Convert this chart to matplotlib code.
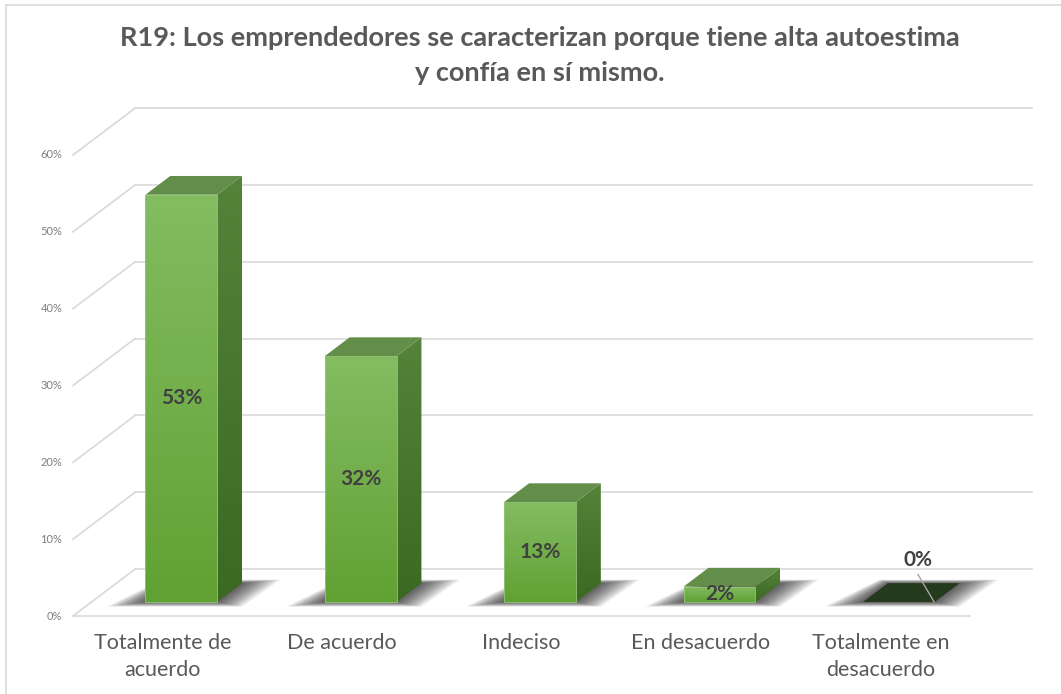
import numpy as np
import matplotlib
matplotlib.use("Agg")
import matplotlib.pyplot as plt
from matplotlib.patches import Polygon
from matplotlib.colors import LinearSegmentedColormap
from matplotlib.lines import Line2D

# datos
categorias = ["Totalmente de\nacuerdo", "De acuerdo", "Indeciso", "En desacuerdo", "Totalmente en\ndesacuerdo"]
valores = [53, 32, 13, 2, 0]
etiquetas = ["53%", "32%", "13%", "2%", "0%"]
ticks_y = [0, 10, 20, 30, 40, 50, 60]
titulo = "R19: Los emprendedores se caracterizan porque tiene alta autoestima\ny confía en sí mismo."

# geometria pseudo 3D
DX, DY = 0.346, 6.1      # profundidad del suelo
ANCHO = 0.40
T0, T1 = 0.30, 0.70      # posicion de la barra en la profundidad
GRIS = "#d9d9d9"
FUENTE = ["Lato", "DejaVu Sans"]

fig = plt.figure(figsize=(10.61, 6.94), dpi=100)
ax = fig.add_axes([73 / 1061, 78 / 694, 897 / 1061, 461 / 694])
ax.set_xlim(-0.5, 4.5)
ax.set_ylim(0, 60)
ax.axis("off")

# borde del grafico
fig.add_artist(Line2D([6 / 1061, 6 / 1061], [0, 1 - 5 / 694], transform=fig.transFigure, color=GRIS, lw=1.2))
fig.add_artist(Line2D([6 / 1061, 1], [1 - 5 / 694, 1 - 5 / 694], transform=fig.transFigure, color=GRIS, lw=1.2))


def grad_fill(verts, c_top, c_bot, z):
    poly = Polygon(verts, closed=True, facecolor="none", edgecolor="none", clip_on=False)
    ax.add_patch(poly)
    xs = [p[0] for p in verts]
    ys = [p[1] for p in verts]
    cmap = LinearSegmentedColormap.from_list("g", [c_bot, c_top])
    img = ax.imshow(np.linspace(0, 1, 256).reshape(-1, 1), extent=[min(xs), max(xs), min(ys), max(ys)],
                    origin="lower", cmap=cmap, aspect="auto", zorder=z)
    img.set_clip_path(poly)


# lineas de la cuadricula (pared trasera, pared izquierda)
for v in ticks_y:
    ax.plot([-0.5 + DX, 4.5 + DX], [v + DY, v + DY], color=GRIS, lw=1.2, clip_on=False, zorder=1)
    ax.plot([-0.5, -0.5 + DX], [v, v + DY], color=GRIS, lw=1.2, clip_on=False, zorder=1)
    ax.text(-0.56, v, f"{v}%", ha="right", va="center", fontsize=8, color="#7f7f7f", family=FUENTE)
# suelo
ax.plot([-0.5, 4.5], [0, 0], color=GRIS, lw=1.2, clip_on=False, zorder=1)

# barras
for i, v in enumerate(valores):
    xl = i - ANCHO / 2
    xr = i + ANCHO / 2
    fx, fy = T0 * DX, T0 * DY
    bx, by = T1 * DX, T1 * DY

    # sombra difusa
    for k in range(16):
        e = 0.005 + k * 0.01
        sh = Polygon([(xl + fx - e * 1.4, fy - e * 4), (xr + fx + e * 0.9, fy - e * 4),
                      (xr + bx + e * 1.4, by + e * 3), (xl + bx - e * 0.3, by + e * 3)],
                     closed=True, facecolor="black", edgecolor="none", alpha=0.055, clip_on=False, zorder=2)
        ax.add_patch(sh)

    if v > 0:
        # cara frontal
        grad_fill([(xl + fx, fy), (xr + fx, fy), (xr + fx, fy + v), (xl + fx, fy + v)], "#84bc62", "#61a133", 3)
        ax.add_patch(Polygon([(xl + fx, fy), (xr + fx, fy), (xr + fx, fy + v), (xl + fx, fy + v)], closed=True,
                             facecolor="none", edgecolor="#93c878", lw=0.6, zorder=4, clip_on=False))
        # cara lateral
        grad_fill([(xr + fx, fy), (xr + bx, by), (xr + bx, by + v), (xr + fx, fy + v)], "#55833a", "#3c6922", 3)
        # cara superior
        ax.add_patch(Polygon([(xl + fx, fy + v), (xr + fx, fy + v), (xr + bx, by + v), (xl + bx, by + v)], closed=True,
                             facecolor="#628e49", edgecolor="none", zorder=4, clip_on=False))
        ax.text(i + fx, fy + v / 2, etiquetas[i], ha="center", va="center", fontsize=15, fontweight="bold",
                color="#404040", family=FUENTE, zorder=6)
    else:
        ax.add_patch(Polygon([(xl + fx, fy), (xr + fx, fy), (xr + bx, by), (xl + bx, by)], closed=True,
                             facecolor="#25391d", edgecolor="none", zorder=4, clip_on=False))
        ax.plot([i + 0.21, i + 0.30], [v + 5.4, v + fy], color="#a6a6a6", lw=1, zorder=5, clip_on=False)
        ax.text(i + 0.21, v + 7.3, etiquetas[i], ha="center", va="center", fontsize=15, fontweight="bold",
                color="#404040", family=FUENTE, zorder=6)

# etiquetas de categorias
for i, c in enumerate(categorias):
    ax.text(i, -2.2, c, ha="center", va="top", fontsize=15.5, color="#595959", linespacing=1.45,
            family=FUENTE)

fig.text(0.509, 1 - 26 / 694, titulo, ha="center", va="top", fontsize=19.5, fontweight="bold", color="#595959",
         linespacing=1.55, family=FUENTE)

fig.savefig("out.png", dpi=100)
